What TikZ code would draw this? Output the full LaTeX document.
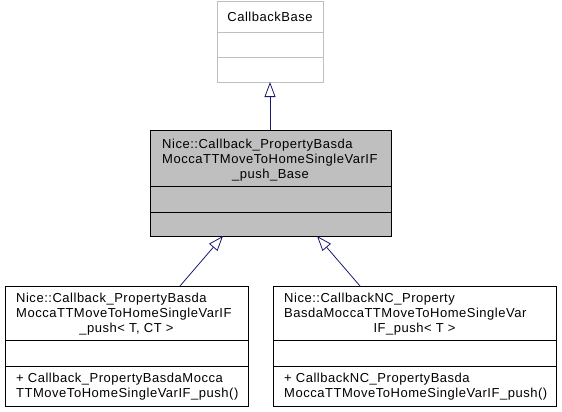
\documentclass[tikz,border=0pt]{standalone}
\usepackage{fontspec}
\setmainfont{Liberation Sans}[LetterSpace=4.0]
\usetikzlibrary{arrows.meta}
\definecolor{edgeblue}{HTML}{191970}
\definecolor{fillgray}{HTML}{BFBFBF}
\definecolor{lightborder}{HTML}{BFBFBF}
\begin{document}
\begin{tikzpicture}[x=1pt,y=-1pt,
  box/.style={draw=black, line width=0.9pt, fill=white, inner sep=0pt, anchor=north west},
  basebox/.style={box, draw=lightborder},
  midbox/.style={box, fill=fillgray},
  divider/.style={line width=0.9pt},
  lbl/.style={inner sep=0pt, font=\fontsize{13}{15}\selectfont},
  lblw/.style={lbl, anchor=base west},
  lblc/.style={lbl, anchor=base},
  inherit/.style={draw=edgeblue, line width=0.8pt, -{Triangle[open, length=15pt, width=11pt]}}
]
\useasboundingbox (0,0) rectangle (562,412);

% CallbackBase
\node[basebox, minimum width=106pt, minimum height=81pt] (cb) at (217,1) {};
\draw[divider, lightborder] (217,32) -- (323,32);
\draw[divider, lightborder] (217,57) -- (323,57);
\node[lblc] (cbt) at (270,21.5) {CallbackBase};

% middle
\node[midbox, minimum width=241pt, minimum height=106pt] (mid) at (150,130) {};
\draw[divider] (150,186) -- (391,186);
\draw[divider] (150,212) -- (391,212);
\node[lblw] (m1) at (162,148.5) {Nice::Callback\_PropertyBasda};
\node[lblw] (m2) at (162,163.5) {MoccaTTMoveToHomeSingleVarIF};
\node[lblc] (m3) at (270.5,178.5) {\_push\_Base};

% left
\node[box, minimum width=243pt, minimum height=120pt] (lb) at (5,286) {};
\draw[divider] (5,340) -- (248,340);
\draw[divider] (5,366) -- (248,366);
\node[lblw] (l1) at (16,302.5) {Nice::Callback\_PropertyBasda};
\node[lblw] (l2) at (16,317.5) {MoccaTTMoveToHomeSingleVarIF};
\node[lblc] (l3) at (126.5,332.5) {\_push< T, CT >};
\node[lblw] (l4) at (16,382) {+ Callback\_PropertyBasdaMocca};
\node[lblw] (l5) at (16,397.5) {TTMoveToHomeSingleVarIF\_push()};

% right
\node[box, minimum width=283pt, minimum height=120pt] (rb) at (273,286) {};
\draw[divider] (273,340) -- (556,340);
\draw[divider] (273,366) -- (556,366);
\node[lblw] (r1) at (284,302.5) {Nice::CallbackNC\_Property};
\node[lblw] (r2) at (284,317.5) {BasdaMoccaTTMoveToHomeSingleVar};
\node[lblc] (r3) at (414.5,332.5) {IF\_push< T >};
\node[lblw] (r4) at (284,382) {+ CallbackNC\_PropertyBasda};
\node[lblw] (r5) at (284,397.5) {MoccaTTMoveToHomeSingleVarIF\_push()};

% connector end points
\coordinate (cbBot) at (270,82);
\coordinate (midTop) at (270,130);
\coordinate (midBotL) at (223,236);
\coordinate (midBotR) at (317,236);
\coordinate (lbTop) at (180,286);
\coordinate (rbTop) at (360,286);

\draw[inherit] (midTop) -- (cbBot);
\draw[inherit] (lbTop) -- (midBotL);
\draw[inherit] (rbTop) -- (midBotR);
\end{tikzpicture}
\end{document}
